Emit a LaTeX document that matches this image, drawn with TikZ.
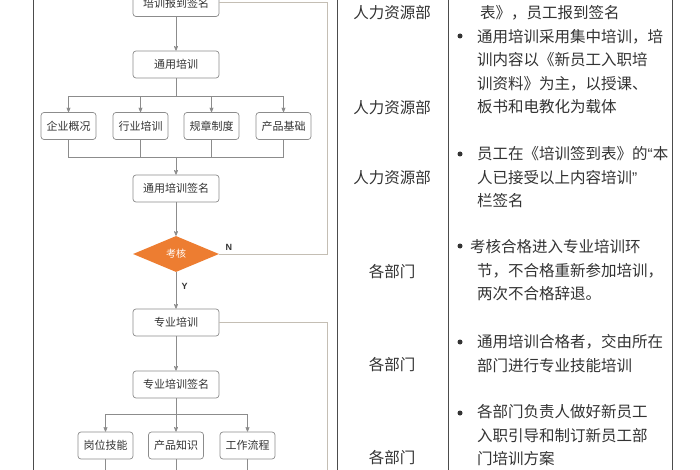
\documentclass[tikz,border=0pt]{standalone}
\usepackage{fontspec}
\newfontfamily\cjk{Noto Sans CJK SC}
\newfontfamily\lab{Liberation Sans}
\usetikzlibrary{arrows}
\usetikzlibrary{shapes.geometric}
\usepackage{xcolor}
\definecolor{orng}{HTML}{ED7D31}
\definecolor{ink}{HTML}{333333}
\definecolor{edge}{HTML}{8C8C8C}
\definecolor{pale}{HTML}{C4BEB4}

\begin{document}
\begin{tikzpicture}[x=1pt,y=-1pt,>=stealth',
 procbox/.style={draw=edge,line width=.7pt,rounded corners=3pt,minimum width=86pt,minimum height=27pt,inner sep=0pt,text=ink,font=\cjk\fontsize{11}{12}\selectfont},
 smallbox/.style={procbox,minimum width=55pt},
 decbox/.style={diamond,fill=orng,minimum width=86pt,minimum height=36pt,inner sep=0pt,text=white,font=\cjk\fontsize{10}{12}\selectfont},
 flowline/.style={edge,line width=.7pt},
 backline/.style={pale,line width=1pt},
 dept/.style={text=ink,inner sep=0pt,font=\cjk\fontsize{15.5}{18}\selectfont},
 note/.style={text=ink,align=left,anchor=west,inner sep=0pt,font=\cjk\fontsize{15.5}{23.5}\selectfont},
 bullet/.style={circle,fill=ink,inner sep=0pt,minimum size=5pt},
 yn/.style={text=ink,font=\lab\bfseries\fontsize{9}{10}\selectfont}]
\fill[white] (0,0) rectangle (700,470);
\useasboundingbox (0,0) rectangle (700,470);
\foreach \x in {33,337,448,672}
 \draw[black!70,line width=1pt] (\x,0)--(\x,470);
\node[procbox] (reg) at (176,3) {培训报到签名};
\node[procbox] (gen) at (176,64.5) {通用培训};
\foreach \n/\x/\t in {c1/68.5/企业概况, c2/140.5/行业培训, c3/211.5/规章制度, c4/283.5/产品基础}
 \node[smallbox] (\n) at (\x,126) {\t};
\node[procbox] (gensign) at (176,188.5) {通用培训签名};
\node[decbox] (check) at (176,254) {考核};
\node[procbox] (spec) at (176,322.5) {专业培训};
\node[procbox] (specsign) at (176,384.5) {专业培训签名};
\foreach \n/\x/\t in {d1/105.5/岗位技能, d2/176/产品知识, d3/247.5/工作流程}
 \node[smallbox] (\n) at (\x,445.5) {\t};
\coordinate (split1) at (176,96);
\coordinate (join1) at (176,157);
\coordinate (split2) at (176,414);
\coordinate (rtop) at (327,3);
\coordinate (rmid) at (327,254);
\coordinate (rlow) at (327,322.5);
\coordinate (rbot) at (327,470);
\draw[flowline,->] (reg)--(gen);
\draw[flowline] (gen)--(split1);
\foreach \n in {c1,c2,c3,c4} {
 \draw[flowline,->] (split1)-|(\n);
 \draw[flowline] (\n)|-(join1);
 }
\draw[flowline,->] (join1)--(gensign);
\draw[flowline,->] (gensign)--(check);
\draw[flowline,->] (check)--(spec) node[pos=.4,right,xshift=2pt,yn] (ylab) {Y};
\draw[backline] (check)--(rmid) node[pos=.09,above,yn] (nlab) {N} --(rtop)--(reg);
\draw[backline] (spec)--(rlow)--(rbot);
\draw[flowline,->] (spec)--(specsign);
\draw[flowline] (specsign)--(split2);
\foreach \n in {d1,d2,d3} {
 \draw[flowline,->] (split2)-|(\n);
 \draw[flowline] (\n)--(\n |- rbot);
 }
\foreach \n/\y in {h1/13,h2/107.5,h3/177.5}
 \node[dept] (\n) at (392,\y) {人力资源部};
\foreach \n/\y in {g1/272,g2/365,g3/458}
 \node[dept] (\n) at (392,\y) {各部门};
\foreach \n/\y in {b1/36,b2/154,b3/246,b4/342,b5/413}
 \node[bullet] (\n) at (460,\y) {};
\node[note] (p0) at (480,13) {表》，员工报到签名};
\node[note] (p1) at (477,71.5) {通用培训采用集中培训，培\\训内容以《新员工入职培\\训资料》为主，以授课、\\板书和电教化为载体};
\node[note] (p2) at (477,177.5) {员工在《培训签到表》的{\lab “}本\\人已接受以上内容培训{\lab ”}\\栏签名};
\node[note] (p3) at (470,270.5) {考核合格进入专业培训环\\\hspace*{7pt}节，不合格重新参加培训，\\\hspace*{7pt}两次不合格辞退。};
\node[note] (p4) at (477,353.5) {通用培训合格者，交由所在\\部门进行专业技能培训};
\node[note] (p5) at (477,435.5) {各部门负责人做好新员工\\入职引导和制订新员工部\\门培训方案};
\end{tikzpicture}
\end{document}
